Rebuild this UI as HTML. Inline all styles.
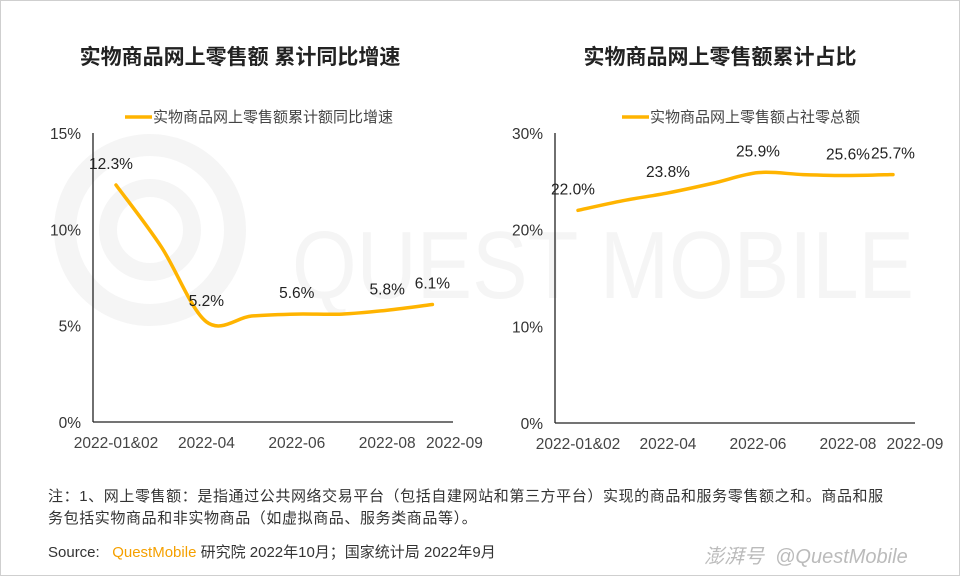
<!DOCTYPE html>
<html><head><meta charset="utf-8"><style>
body{margin:0;width:960px;height:576px;background:#fff;overflow:hidden;font-family:"Liberation Sans","Noto Sans CJK SC",sans-serif;}
#wrap{position:absolute;left:0;top:0;width:958px;height:574px;border:1px solid #cfcfcf;}
.t{position:absolute;font-size:15px;color:#333;white-space:nowrap;}
</style></head><body>
<div id="wrap"></div>
<svg id="svg" width="960" height="576" style="position:absolute;left:0;top:0">
<g fill="none" stroke="#f5f5f5">
<circle cx="150" cy="230" r="85" stroke-width="22"/>
<circle cx="150" cy="230" r="42" stroke-width="18"/>
</g>
<text x="292" y="298" font-size="96" fill="#f5f5f5" font-family="Liberation Sans" textLength="622" lengthAdjust="spacingAndGlyphs">QUEST MOBILE</text>
<text x="240" y="64" font-size="21" font-weight="bold" text-anchor="middle" fill="#222">实物商品网上零售额 累计同比增速</text>
<text x="720" y="64" font-size="21" font-weight="bold" text-anchor="middle" fill="#222">实物商品网上零售额累计占比</text>
</svg>
<div class="t" style="left:48px;top:486px;line-height:22px;letter-spacing:0.6px">注：1、网上零售额：是指通过公共网络交易平台（包括自建网站和第三方平台）实现的商品和服务零售额之和。商品和服<br>务包括实物商品和非实物商品（如虚拟商品、服务类商品等）。</div>
<div class="t" style="left:48px;top:541px">Source:&nbsp;&nbsp; <span style="color:#f5a000">QuestMobile</span> 研究院 2022年10月；国家统计局 2022年9月</div>
<div class="t" style="left:704px;top:540px;color:#bbb;font-size:20px;font-style:italic">澎湃号 &nbsp;@QuestMobile</div>
<script>
const categories=["2022-01&02","2022-03","2022-04","2022-05","2022-06","2022-07","2022-08","2022-09"];
const growthValues=[12.3,9.1,5.2,5.5,5.6,5.6,5.8,6.1];
const shareValues=[22.0,23.0,23.8,24.8,25.9,25.7,25.6,25.7];
const growthTicks=[0,5,10,15];
const shareTicks=[0,10,20,30];
const labeledIdx=[0,2,4,6,7];
const growthLegend="实物商品网上零售额累计额同比增速";
const shareLegend="实物商品网上零售额占社零总额";
const NS="http://www.w3.org/2000/svg";
const svg=document.getElementById('svg');
function mk(t,a){const e=document.createElementNS(NS,t);for(const k in a)e.setAttribute(k,a[k]);svg.appendChild(e);return e;}
function chart(o){
  const x=i=>o.x0+o.step*i;
  const y=v=>o.yb-(v/o.ymax)*(o.yb-o.yt);
  let e=mk('line',{x1:o.ax,y1:o.yt,x2:o.ax,y2:o.yb,stroke:'#222','stroke-width':1.3});
  
  e=mk('line',{x1:o.ax,y1:o.yb,x2:o.ax2,y2:o.yb,stroke:'#222','stroke-width':1.3});
  
  o.ticks.forEach(t=>{const e=mk('text',{x:o.ax-12,y:y(t)+6,'font-size':15.5,'text-anchor':'end',fill:'#333'});e.textContent=t+'%';
    });
  labeledIdx.forEach((i,k)=>{const last=k==labeledIdx.length-1;const e=mk('text',{x:x(i)+(last?22:0),y:o.yb+26,'font-size':15.5,'text-anchor':'middle',fill:'#444'});e.textContent=categories[i];
    });
  const pts=o.vals.map((v,i)=>[x(i),y(v)]);
  let d='M'+pts[0][0]+','+pts[0][1];
  for(let i=0;i<pts.length-1;i++){const p0=pts[Math.max(i-1,0)],p1=pts[i],p2=pts[i+1],p3=pts[Math.min(i+2,pts.length-1)];
    d+=' C'+(p1[0]+(p2[0]-p0[0])/6)+','+(p1[1]+(p2[1]-p0[1])/6)+' '+(p2[0]-(p3[0]-p1[0])/6)+','+(p2[1]-(p3[1]-p1[1])/6)+' '+p2[0]+','+p2[1];}
  e=mk('path',{d:d,fill:'none',stroke:'#ffb400','stroke-width':3.5,'stroke-linecap':'round'});
  
  labeledIdx.forEach(i=>{const e=mk('text',{x:x(i)+(i==0?-5:0),y:y(o.vals[i])-16,'font-size':15.5,'text-anchor':'middle',fill:'#222'});e.textContent=o.vals[i].toFixed(1)+'%';
    });
  e=mk('line',{x1:o.lx,y1:117,x2:o.lx+27,y2:117,stroke:'#ffb400','stroke-width':3.5});
  
  e=mk('text',{x:o.lx+28,y:122,'font-size':15,fill:'#444'});e.textContent=o.leg;
  
}
chart({p:'growth',vals:growthValues,ticks:growthTicks,ymax:15,x0:116,step:45.2,ax:93,ax2:453,yt:133,yb:422,lx:125,leg:growthLegend});
chart({p:'share',vals:shareValues,ticks:shareTicks,ymax:30,x0:578,step:45,ax:555,ax2:915,yt:133,yb:423,lx:622,leg:shareLegend});
</script>
</body></html>
